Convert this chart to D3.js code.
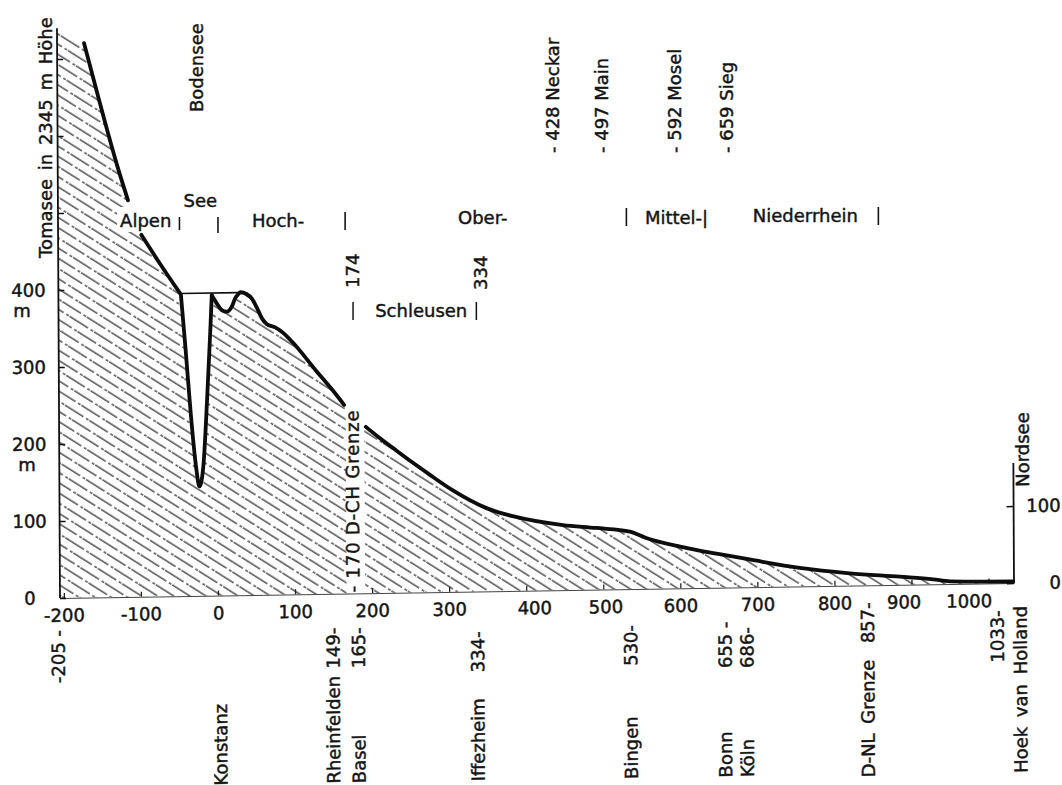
<!DOCTYPE html>
<html><head><meta charset="utf-8">
<script src="https://cdn.jsdelivr.net/npm/d3@7/dist/d3.min.js"></script>
<style>
html,body{margin:0;padding:0;background:#fff;}
svg{display:block;}
text{font-family:"DejaVu Sans",sans-serif;font-size:18px;fill:#141414;stroke:#141414;stroke-width:0.45px;}
</style></head><body>
<svg id="chart" width="1062" height="785"></svg>
<script>
// ---------------- data (km from Konstanz, metres above sea level) ----------------
const alpsKm   = [-170, -155, -142, -128, -114];
const alpsM    = [720, 662, 612, 561, 515];
const alps2Km  = [-97, -71, -47];
const alps2M   = [470, 429, 393];
const lakeKm   = [-47, 29];
const lakeM    = [393, 393];
const oberseeKm = [-46, -40.6, -34.1, -27.6, -23.3, -18.1, -12.6, -8.1, -6];
const oberseeM  = [391, 324, 237, 168, 142, 168, 258, 345, 390];
const hochKm = [-6, 0.4, 6.9, 13.4, 19.9, 24.3, 28.6, 31, 39, 46, 52, 59, 65, 76, 85, 98, 128, 150, 165];
const hochM  = [390, 379.5, 370.6, 368.4, 374.8, 385.6, 391, 393.4, 391, 385, 374, 359, 351.5, 347, 341, 328, 291, 264.5, 245];
const lowerKm = [193, 210, 232, 253, 275, 305, 349, 383, 448, 491, 535, 556, 600, 625, 664, 690, 755, 820, 885, 928, 950, 1032];
const lowerM  = [216, 202, 185, 169, 153, 132, 108, 97, 84.5, 80, 74.5, 66, 54, 48.5, 41, 36, 24, 16, 10.5, 6.5, 3.5, 2];

const xTicks = [-200, -100, 0, 100, 200, 300, 400, 500, 600, 700, 800, 900, 1000];
const yTicks = [0, 100, 200, 300, 400, 500, 600, 700];
const yTickLabels = [0, 100, 200, 300, 400];
const rightTicks = [0, 100];

const placeKm    = [-205, 0, 149, 165, 334, 530, 655, 686, 857, 1033];
const placeName  = ["", "Konstanz", "Rheinfelden", "Basel", "Iffezheim", "Bingen", "Bonn", "Köln", "D-NL Grenze", "Hoek van Holland"];
const placeNum   = ["-205 -", "", "149-", "165-", "334-", "530-", "655 -", "686-", "857-", "1033-"];

const tribKm   = [428, 497, 592, 659];
const tribName = ["Neckar", "Main", "Mosel", "Sieg"];

const regionName = ["Alpen", "Hoch-", "Ober-", "Mittel-|", "Niederrhein"];
const regionKm   = [-127, 44, 311.5, 554, 694];
const regionBoundKm = [-50, 0, 165, 530, 857];
const schleusenKm = [174, 334];

// ---------------- layout ----------------
const svg = d3.select("#chart");
const x = d3.scaleLinear().domain([-205, 1033]).range([60, 1014]);
const y = d3.scaleLinear().domain([0, 740]).range([598, 598 - 740 * 0.77]);
const pts = (ks, ms) => ks.map((k, i) => [k, ms[i]]);

// hatch pattern
const defs = svg.append("defs");
const pat = defs.append("pattern").attr("id", "hatch")
  .attr("patternUnits", "userSpaceOnUse").attr("width", 58).attr("height", 17.14)
  .attr("patternTransform", "rotate(33)");
pat.append("line").attr("x1", 0).attr("x2", 58).attr("y1", 4).attr("y2", 4)
  .attr("stroke", "#262626").attr("stroke-width", 1.2).attr("stroke-dasharray", "22 3 3 1");
pat.append("line").attr("x1", 0).attr("x2", 58).attr("y1", 12.57).attr("y2", 12.57)
  .attr("stroke", "#262626").attr("stroke-width", 1.2).attr("stroke-dasharray", "22 3 3 1")
  .attr("stroke-dashoffset", 14);

// scanned sheet is slightly tilted: apply the same small affine to the plot
const P = [60, 598], a = 1, b = -0.0157, c = 0.0053, dd = 1;
const e = P[0] - (a * P[0] + c * P[1]), f = P[1] - (b * P[0] + dd * P[1]);
const plot = svg.append("g").attr("transform", `matrix(${a},${b},${c},${dd},${e},${f})`);

const lineGen = d3.line().x(d => x(d[0])).y(d => y(d[1])).curve(d3.curveMonotoneX);
const segs = [pts(alpsKm, alpsM), pts(alps2Km, alps2M), pts(oberseeKm, oberseeM), pts(hochKm, hochM), pts(lowerKm, lowerM)];

let area = `M${x(-205)},${y(0)}L${x(-205)},${y(735)}`;
segs.forEach(s => { area += lineGen(s).replace(/^M/, "L"); });
area += `L${x(1033)},${y(lowerM[lowerM.length - 1])}L${x(1033)},${y(0)}Z`;
plot.append("path").attr("d", area).attr("fill", "url(#hatch)").attr("stroke", "none");

// white strip behind border label
plot.append("rect").attr("x", x(165) + 1.5).attr("y", y(245)).attr("width", x(193) - x(165) - 3)
  .attr("height", y(0) - y(245)).attr("fill", "#fff");

// x axis
const xAxis = d3.axisBottom(x).tickValues(xTicks).tickSizeInner(-5).tickSizeOuter(0)
  .tickPadding(11).tickFormat(d => String(d));
const gx = plot.append("g").attr("transform", `translate(0,${y(0)})`).call(xAxis);
gx.select(".domain").attr("stroke", "#444").attr("stroke-width", 1);
gx.selectAll(".tick line").attr("stroke", "#222").attr("stroke-width", 1.3);
const xNudge = {400: 8, 500: 2, 900: -8, 1000: -20};
gx.selectAll(".tick text").attr("font-size", 18).attr("fill", "#141414")
  .attr("font-family", "DejaVu Sans").attr("dx", d => xNudge[d] || 0);

// left y axis
const yAxis = d3.axisLeft(y).tickValues(yTicks).tickSizeInner(-6).tickSizeOuter(0)
  .tickFormat(d => yTickLabels.includes(d) ? String(d) : "");
const gy = plot.append("g").attr("transform", `translate(${x(-205)},0)`).call(yAxis);
gy.select(".domain").attr("d", `M0,${y(0)}V${y(740)}`).attr("stroke", "#111").attr("stroke-width", 1.8);
gy.selectAll(".tick line").attr("stroke", "#111").attr("stroke-width", 1.5);
gy.selectAll(".tick text").attr("font-size", 18).attr("fill", "#141414")
  .attr("font-family", "DejaVu Sans").attr("text-anchor", "middle").attr("x", -30);

// right (Nordsee) axis
const rAxis = d3.axisRight(y).tickValues(rightTicks).tickSizeInner(-7).tickSizeOuter(0)
  .tickFormat(d => String(d));
const gr = plot.append("g").attr("transform", `translate(${x(1033)},0)`).call(rAxis);
gr.select(".domain").attr("d", `M0,${y(0)}V${y(156)}`).attr("stroke", "#111").attr("stroke-width", 1.8);
gr.selectAll(".tick line").attr("stroke", "#111").attr("stroke-width", 1.5);
gr.selectAll(".tick text").attr("font-size", 18).attr("fill", "#141414")
  .attr("font-family", "DejaVu Sans").attr("text-anchor", "end").attr("x", 47);
plot.append("text").attr("transform", `translate(${x(1033) + 9},502) rotate(-90)`)
  .attr("dominant-baseline", "central").text("Nordsee");

// lake surface (thin)
plot.append("path").attr("d", d3.line().x(d => x(d[0])).y(d => y(d[1]))(pts(lakeKm, lakeM)))
  .attr("fill", "none").attr("stroke", "#111").attr("stroke-width", 1.7);

// profile lines (thick)
segs.forEach(s => {
  plot.append("path").attr("d", lineGen(s)).attr("fill", "none")
    .attr("stroke", "#0d0d0d").attr("stroke-width", 3.8)
    .attr("stroke-linecap", "round").attr("stroke-linejoin", "round");
});

// D-CH border label
plot.append("text").attr("transform", `translate(353,597) rotate(-90)`)
  .attr("dominant-baseline", "central").attr("textLength", 182).attr("lengthAdjust", "spacing")
  .text("- 170 D-CH Grenze");

// bottom place labels
const nameDx = [0, 2, 0, 13, 2, 4, 2, 0, -11, 6];
const numDx  = [-2, 0, 0, 13, 2, 4, 2, 0, -11, -17];
const numTop = [630, 0, 632, 632, 638, 634, 632, 638, 615, 625];
const nameBottom = [788, 788, 788, 788, 788, 788, 788, 788, 790, 788];
placeKm.forEach((k, i) => {
  if (placeName[i]) {
    plot.append("text").attr("transform", `translate(${x(k) + nameDx[i]},${nameBottom[i]}) rotate(-90)`)
      .attr("dominant-baseline", "central").attr("text-anchor", "start")
      .style("word-spacing", "4px").text(placeName[i]);
  }
  if (placeNum[i]) {
    plot.append("text").attr("transform", `translate(${x(k) + numDx[i]},${numTop[i]}) rotate(-90)`)
      .attr("dominant-baseline", "central").attr("text-anchor", "end")
      .style("white-space", "pre").text(placeNum[i]);
  }
});

// ---------------- overlay (upper annotations, not tilted) ----------------
const ov = svg.append("g");
ov.append("rect").attr("x", 117).attr("y", 207).attr("width", 56).attr("height", 25).attr("fill", "#fff");

ov.append("text").attr("transform", "translate(45,258) rotate(-90)")
  .attr("dominant-baseline", "central").style("word-spacing", "3px")
  .text("Tomasee in 2345 m Höhe");
ov.append("text").attr("x", 22).attr("y", y(400) + 27).attr("text-anchor", "middle")
  .attr("font-size", 15).text("m");
ov.append("text").attr("x", 27).attr("y", y(200) + 27).attr("text-anchor", "middle")
  .attr("font-size", 15).text("m");

ov.append("text").attr("transform", "translate(196,112) rotate(-90)")
  .attr("dominant-baseline", "central").text("Bodensee");
ov.append("text").attr("x", x(-23)).attr("y", 207).attr("text-anchor", "middle").text("See");

const regionBase = [227, 227, 224, 224, 222];
regionName.forEach((n, i) => {
  ov.append("text").attr("x", x(regionKm[i])).attr("y", regionBase[i]).text(n);
});
const boundY = [[217, 230], [217, 233], [212, 230], [208, 226], [207, 225]];
regionBoundKm.forEach((k, i) => {
  ov.append("line").attr("x1", x(k)).attr("x2", x(k)).attr("y1", boundY[i][0]).attr("y2", boundY[i][1])
    .attr("stroke", "#141414").attr("stroke-width", 1.6);
});

// Schleusen
schleusenKm.forEach((k, i) => {
  ov.append("line").attr("x1", x(k) + 1).attr("x2", x(k) + 1).attr("y1", 302).attr("y2", 320)
    .attr("stroke", "#141414").attr("stroke-width", 1.5);
  ov.append("text").attr("transform", `translate(${x(k) + (i ? 5 : 0)},${i ? 290 : 288}) rotate(-90)`)
    .attr("dominant-baseline", "central").text(String(k));
});
ov.append("text").attr("x", x(204)).attr("y", 317).text("Schleusen");

// tributaries
const tribDx = [5, 1, 0, 1];
tribKm.forEach((k, i) => {
  ov.append("text").attr("transform", `translate(${x(k) + tribDx[i]},153) rotate(-90)`)
    .attr("dominant-baseline", "central").text(`- ${k} ${tribName[i]}`);
});
</script>
</body></html>
